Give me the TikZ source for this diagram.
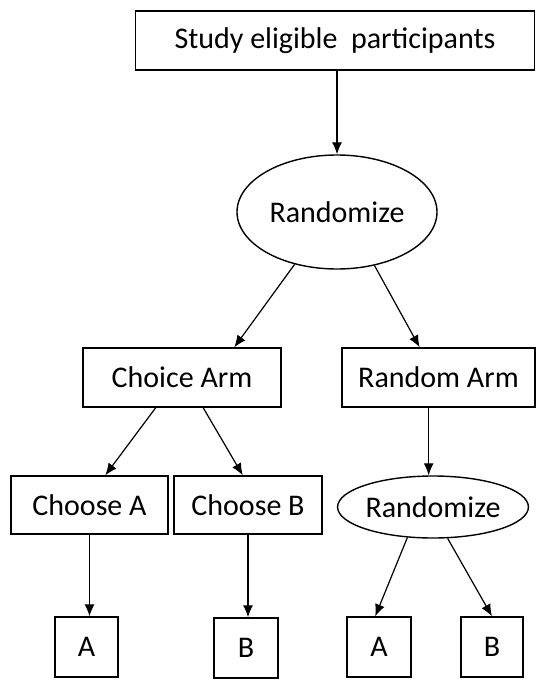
\documentclass[tikz,border=0pt]{standalone}
\usepackage{fontspec}
\setmainfont{Carlito}
\usetikzlibrary{shapes.geometric,arrows.meta}
\tikzset{
  box/.style={draw, line width=1.4pt, inner sep=0pt, font=\fontsize{30}{36}\selectfont},
  oval/.style={box, ellipse},
}
\begin{document}
\begin{tikzpicture}[>={Latex[length=12pt,width=10pt]}, x=1pt, y=-1pt, line width=1.2pt]
\useasboundingbox (0,0) rectangle (536,680);

\node[box, minimum width=399pt, minimum height=59pt] (top) at (335,40.5) {Study eligible\ \ participants};
\node[oval, minimum width=200pt, minimum height=114pt] (rand1) at (337,212) {Randomize};

\node[box, minimum width=198pt, minimum height=59pt] (choice) at (182,377.5) {Choice Arm};
\node[box, minimum width=193pt, minimum height=59pt] (random) at (438.5,377.5) {Random Arm};

\node[box, minimum width=157pt, minimum height=58pt] (chA) at (89.5,505) {Choose A};
\node[box, minimum width=148pt, minimum height=58pt] (chB) at (248,505) {Choose B};
\node[oval, minimum width=178pt, minimum height=62pt] (rand2) at (433,507) {Randomize};

\node[box, minimum width=63pt, minimum height=60pt] (a1) at (86.5,647) {A};
\node[box, minimum width=64pt, minimum height=60pt] (b1) at (246,648) {B};
\node[box, minimum width=64pt, minimum height=60pt] (a2) at (379,647) {A};
\node[box, minimum width=62pt, minimum height=60pt] (b2) at (492,647) {B};

\draw[->] (top.south -| rand1.north) -- (rand1.north);
\draw[->] (rand1.231) -- (choice.30);
\draw[->] (rand1.305) -- (random.122);
\draw[->] (choice.229) -- (chA.62);
\draw[->] (choice.305) -- (chB.100);
\draw[->] (random.252) -- (random.252 |- rand2.north);
\draw[->] (chA.south) -- (chA.south |- a1.north);
\draw[->] (chB.south) -- (chB.south |- b1.north);
\draw[->] (rand2.230) -- (a2.97);
\draw[->] (rand2.295) -- (b2.north);

\end{tikzpicture}
\end{document}
